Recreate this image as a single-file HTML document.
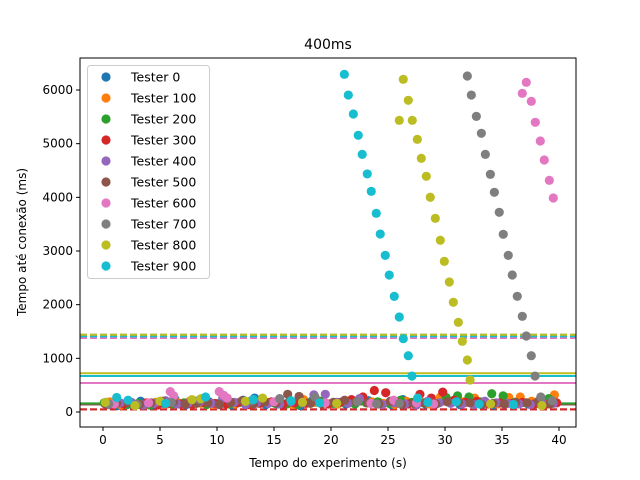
<!DOCTYPE html>
<html><head><meta charset="utf-8"><style>
body{margin:0;background:#fff;}
svg{display:block;font-family:"DejaVu Sans","Liberation Sans",sans-serif;}
</style></head><body>
<svg id="chart" width="640" height="480">
<rect width="640" height="480" fill="#fff"/>
<text x="328" y="49" text-anchor="middle" font-size="14">400ms</text>
<g id="lines"></g>
<g id="points"></g>
<g id="axes"></g>
<g id="legend"></g>
<text x="328" y="467" text-anchor="middle" font-size="12">Tempo do experimento (s)</text>
<text transform="translate(26,242) rotate(-90)" text-anchor="middle" font-size="12">Tempo até conexão (ms)</text>
</svg>
<script>
const colors=["#1f77b4","#ff7f0e","#2ca02c","#d62728","#9467bd","#8c564b","#e377c2","#7f7f7f","#bcbd22","#17becf"];
const labels=["Tester 0","Tester 100","Tester 200","Tester 300","Tester 400","Tester 500","Tester 600","Tester 700","Tester 800","Tester 900"];
const xTicks=[0,5,10,15,20,25,30,35,40];
const yTicks=[0,1000,2000,3000,4000,5000,6000];
const lowOffsets=[0.3,0.6,0.1,0.8,0.5,0.2];
const low0=[180,120,150,200,130,160,240,140,170,190,150,130,220,260,140,150,180,120,200,170,160,150,190,210,170,140,230,180,150,160,200,140,170,150,130,160,180,150,200,170];
const low1=[190,130,160,140,180,150,170,200,160,140,190,150,170,160,180,150,140,230,180,160,150,170,250,190,160,140,200,170,150,280,200,190,260,170,150,270,280,200,180,320];
const low2=[170,150,140,160,130,180,150,170,200,140,160,150,180,170,190,160,150,140,170,200,160,180,150,170,190,160,220,180,170,160,270,300,280,190,340,300,180,170,160,250];
const low3=[120,150,140,170,130,160,150,140,180,160,150,170,140,160,190,150,170,160,200,150,180,230,280,400,360,170,150,330,260,370,220,180,200,150,170,160,180,150,140,170];
const low4=[140,170,180,130,160,210,150,170,190,160,260,180,140,170,160,150,190,170,320,330,180,160,250,160,140,170,150,130,200,170,160,150,140,200,170,160,150,140,180,160];
const low5=[150,160,180,140,170,200,190,150,160,170,140,180,210,150,190,170,330,290,160,150,180,220,190,170,150,200,140,160,170,150,190,180,170,140,160,150,180,170,200,150];
const x900=[1.2,2.2,5.5,9,13.2,16.5,19,21.17,21.52,21.96,22.39,22.74,23.18,23.53,23.97,24.32,24.76,25.11,25.55,25.99,26.34,26.78,27.1,27.6,28.5,31,33,36];
const y900=[270,220,160,280,230,210,170,6292,5906,5553,5156,4801,4436,4112,3702,3316,2919,2552,2155,1770,1366,1049,670,260,180,190,150,140];
const x800=[0.2,2.8,5,7.8,8.6,12.5,14,17.5,20.5,26.34,26.78,25.99,27.13,27.57,27.92,28.36,28.71,29.15,29.59,29.94,30.38,30.73,31.17,31.52,31.96,32.2,34,38.5];
const y800=[180,120,200,230,250,200,260,180,160,6199,5808,5435,5435,5081,4727,4392,4001,3609,3200,2807,2422,2044,1671,1317,969,596,150,120];
const x700=[0.5,3,6,8.5,13,15.5,18.6,22.3,24,26,31.96,32.31,32.75,33.19,33.54,33.98,34.33,34.76,35.11,35.55,35.9,36.34,36.78,37.13,37.57,37.9,38.4,39.4];
const y700=[150,140,180,230,210,250,280,190,150,160,6261,5906,5509,5193,4801,4429,4094,3721,3311,2919,2553,2156,1783,1416,1049,670,280,210];
const x600=[1,4,5.9,6.2,10.2,10.6,10.9,15,19.5,23.5,25.5,27.5,29,37.13,36.78,37.57,37.92,38.36,38.71,39.15,39.5];
const y600=[150,170,380,300,380,310,260,190,170,160,220,170,150,6143,5938,5789,5398,5049,4695,4317,3987];
const meanVals=[150,150,160,50,150,140,540,1440,721,671];
const p95Vals=[150,150,160,50,150,50,1380,1440,1440,1410];
const solidIdx=[5,2,6,8,9];
const dashIdx=[5,3,6,9,7,8];
const NS="http://www.w3.org/2000/svg";
const L=80,R=576,T=58,B=427;
function xs(t){return 103+(t-0)*(559-103)/40;}
function ys(v){return 412-v*(412-90)/6000;}
function mk(tag,attrs,parent){const e=document.createElementNS(NS,tag);for(const k in attrs)e.setAttribute(k,attrs[k]);parent.appendChild(e);return e;}
const gl=document.getElementById('lines'),gp=document.getElementById('points'),ga=document.getElementById('axes'),gleg=document.getElementById('legend');
const series=[];
const lows=[low0,low1,low2,low3,low4,low5];
lows.forEach((arr,k)=>{series.push({k:k,xs:arr.map((v,i)=>i+lowOffsets[k]),ys:arr});});
series.push({k:6,xs:x600,ys:y600});
series.push({k:7,xs:x700,ys:y700});
series.push({k:8,xs:x800,ys:y800});
series.push({k:9,xs:x900,ys:y900});
series.forEach(s=>{
  const g=mk('g',{},gp);
  
  
  s.ys.forEach((v,i)=>{
    const c=mk('circle',{cx:xs(s.xs[i]),cy:ys(v),r:4.6,fill:colors[s.k]},g);
    
    
  });
});
solidIdx.forEach(k=>{
  const l=mk('line',{x1:L,x2:R,y1:ys(meanVals[k]),y2:ys(meanVals[k]),stroke:colors[k],'stroke-width':2},gl);
  
  
});
dashIdx.forEach(k=>{
  const l=mk('line',{x1:L,x2:R,y1:ys(p95Vals[k]),y2:ys(p95Vals[k]),stroke:colors[k],'stroke-width':2,'stroke-dasharray':'7,3'},gl);
  
  
});
const fr=mk('rect',{x:L,y:T,width:R-L,height:B-T,fill:'none',stroke:'#000','stroke-width':1},ga);


xTicks.forEach(t=>{
  mk('line',{x1:xs(t),x2:xs(t),y1:B,y2:B+4,stroke:'#000'},ga);
  const tx=mk('text',{x:xs(t),y:B+17,'text-anchor':'middle','font-size':12},ga);
  tx.textContent=t;
  
  
});
yTicks.forEach(v=>{
  mk('line',{x1:L-4,x2:L,y1:ys(v),y2:ys(v),stroke:'#000'},ga);
  const tx=mk('text',{x:L-7,y:ys(v)+4,'text-anchor':'end','font-size':12},ga);
  tx.textContent=v;
  
  
});
const lb=mk('rect',{x:87.5,y:65.5,width:122,height:213,rx:3,fill:'#fff','fill-opacity':0.8,stroke:'#ccc'},gleg);


labels.forEach((lab,i)=>{
  const g=mk('g',{},gleg);
  
  
  const y=77+i*21;
  mk('circle',{cx:106,cy:y,r:4.6,fill:colors[i]},g);
  const tx=mk('text',{x:131,y:y+4.5,'font-size':12.5},g);
  tx.textContent=lab;
});
</script>
</body></html>
